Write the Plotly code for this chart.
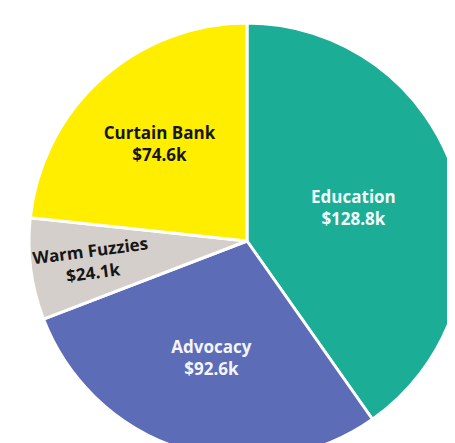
import plotly.graph_objects as go

categories = ["Education", "Advocacy", "Warm Fuzzies", "Curtain Bank"]
values_k = [128.8, 92.6, 24.1, 74.6]
colors = ["#1CAD97", "#5D6CB6", "#D4CFCA", "#FFEE00"]
text_colors = ["#F2FBF8", "#F4F5FB", "#151515", "#151515"]

tpl = "<b>%{label}<br>$%{value:.1f}k</b>"
radial = [c == "Warm Fuzzies" for c in categories]

common = dict(
    labels=categories,
    values=values_k,
    sort=False,
    direction="clockwise",
    rotation=0,
    textposition="inside",
    hoverinfo="label+value",
    showlegend=False,
)

fig = go.Figure()
fig.add_trace(go.Pie(
    **common,
    marker=dict(colors=colors, line=dict(color="white", width=3)),
    texttemplate=["" if r else tpl for r in radial],
    insidetextorientation="horizontal",
    insidetextfont=dict(family="Open Sans", size=17, color=text_colors),
))
fig.add_trace(go.Pie(
    **common,
    marker=dict(colors=["rgba(0,0,0,0)"] * len(categories), line=dict(width=0)),
    texttemplate=[tpl if r else "" for r in radial],
    insidetextorientation="radial",
    insidetextfont=dict(family="Open Sans", size=17, color=text_colors),
))

fig.update_layout(
    width=460,
    height=460,
    margin=dict(l=21, r=3, t=15, b=9),
    paper_bgcolor="white",
    plot_bgcolor="white",
    uniformtext=dict(minsize=8),
)

fig.write_html("out.html")
